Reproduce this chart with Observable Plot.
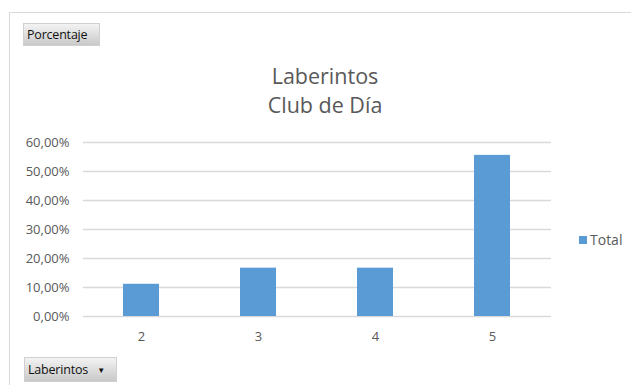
<!DOCTYPE html>
<html>
<head>
<meta charset="utf-8">
<script src="https://cdn.jsdelivr.net/npm/d3@7"></script>
<script src="https://cdn.jsdelivr.net/npm/@observablehq/plot@0.6"></script>
<style>
  html, body { margin:0; padding:0; background:#fff; }
  body { width:631px; height:385px; overflow:hidden; position:relative; font-family:"Open Sans", sans-serif; }
  #frame { position:absolute; left:9px; top:12px; width:700px; height:450px; border:1px solid #D9D9D9; box-sizing:border-box; }
  .btn { position:absolute; background:linear-gradient(#f3f3f3, #c9c9c9); border:1px solid #d0d0d0; box-sizing:border-box;
         font-family:"Open Sans", sans-serif; font-size:12.5px; color:#111; line-height:21px; padding-left:3px; letter-spacing:-0.2px; }
  #title { position:absolute; left:0; width:650px; top:61px; text-align:center; font-family:"Open Sans", sans-serif;
           font-size:21.5px; line-height:29px; color:#595959; }
  #chart { position:absolute; left:0; top:120px; }
  #legend { position:absolute; left:579px; top:230px; font-size:14px; color:#595959; font-family:"Open Sans", sans-serif; }
  #legend .sw { display:inline-block; width:8px; height:8px; background:#5B9BD5; margin-right:3px; vertical-align:1px; }
</style>
</head>
<body>
<div id="frame"></div>
<div class="btn" style="left:23px; top:23px; width:77px; height:23px;">Porcentaje</div>
<div id="title">Laberintos<br>Club de Día</div>
<div id="chart"></div>
<div id="legend"><span class="sw"></span>Total</div>
<div class="btn" style="left:24px; top:357px; width:93px; height:25px; line-height:24px;">Laberintos&nbsp;&nbsp;&nbsp;<span style="font-size:8px; position:relative; top:-1px;">▼</span></div>
<script>
const categories = ["2", "3", "4", "5"];
const values = [0.1111, 0.1667, 0.1667, 0.5556];
const yTicks = [0, 0.1, 0.2, 0.3, 0.4, 0.5, 0.6];
const seriesName = "Total";

const data = categories.map((c, i) => ({cat: c, value: values[i], series: seriesName}));

const chart = Plot.plot({
  width: 631,
  height: 240,
  marginLeft: 83,
  marginRight: 80,
  marginTop: 22,
  marginBottom: 44,
  style: {fontFamily: "Open Sans, sans-serif", fontSize: "13px", color: "#595959", background: "transparent", overflow: "visible"},
  x: {domain: categories, paddingInner: 0.69, paddingOuter: 0.345, label: null, tickSize: 0, tickPadding: 15},
  y: {domain: [0, 0.6], ticks: yTicks, label: null, tickSize: 0, tickPadding: 14,
      tickFormat: d => d3.format(".2f")(d * 100).replace(".", ",") + "%"},
  marks: [
    Plot.ruleY(yTicks, {stroke: "#D9D9D9", strokeWidth: 1.4}),
    Plot.barY(data, {x: "cat", y: "value", fill: "#5B9BD5"})
  ]
});
document.getElementById("chart").appendChild(chart);
</script>
</body>
</html>
